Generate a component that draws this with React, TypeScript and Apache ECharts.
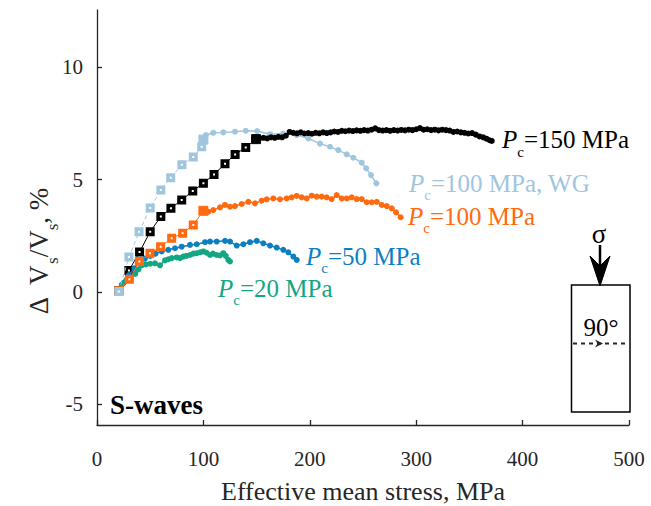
import React, { useEffect, useRef } from "react";
import * as echarts from "echarts";

const FONT = '"Liberation Serif", "Times New Roman", serif';
const AXIS_COLOR = "#262626";

const C_BLACK = "#000000";
const C_LIGHT = "#a0c6de";
const C_ORANGE = "#ff6a10";
const C_BLUE = "#0d7fc1";
const C_GREEN = "#13a682";

const xTicks = [0, 100, 200, 300, 400, 500];
const yTicks = [-5, 0, 5, 10];

// initial (square) segments; last point is the filled transition square
const lightSquares = [[20.5, 0.02], [30, 1.55], [39.5, 2.67], [50, 3.73], [60, 4.53], [69.3, 5.08], [79.8, 5.66], [90.5, 6.0], [98.4, 6.46], [100, 6.78]];
const lightCircles = [[102.4, 6.98], [109.3, 7.08], [118.7, 7.1], [129.7, 7.13], [139.8, 7.17], [150.5, 7.16], [162.6, 7.02], [175, 7.05], [187.7, 6.98], [198.6, 6.83], [209.6, 6.6], [219, 6.46], [226.8, 6.31], [234.7, 6.12], [240.9, 5.97], [248.8, 5.75], [253, 5.5], [257.5, 5.2], [262.5, 4.83]];

const blackSquares = [[20.5, 0.05], [30, 0.95], [40, 1.77], [50, 2.68], [60, 3.35], [69.5, 3.72], [79.6, 4.09], [90, 4.49], [100, 4.83], [110, 5.23], [120.3, 5.7], [129.8, 6.12], [139.8, 6.43], [149.5, 6.8]];
const blackCircles = [[153, 6.84], [156.5, 6.86], [160, 6.83], [163.5, 6.88], [167, 6.86], [170.5, 6.9], [174, 6.88], [177.5, 6.95], [181, 7.12], [184.5, 7.08], [188, 7.06], [191.5, 7.1], [195, 7.05], [198.5, 7.07], [202, 7.04], [205.5, 7.08], [209, 7.06], [212.5, 7.1], [216, 7.07], [219.5, 7.1], [223, 7.14], [226.5, 7.12], [230, 7.17], [233.5, 7.15], [237, 7.18], [240.5, 7.16], [244, 7.19], [247.5, 7.17], [251, 7.2], [254.5, 7.18], [258, 7.22], [261.5, 7.28], [265, 7.2], [268.5, 7.18], [272, 7.2], [275.5, 7.17], [279, 7.2], [282.5, 7.18], [286, 7.21], [289.5, 7.19], [293, 7.22], [296.5, 7.2], [300, 7.24], [303.5, 7.29], [307, 7.22], [310.5, 7.24], [314, 7.2], [317.5, 7.22], [321, 7.19], [324.5, 7.22], [328, 7.2], [331.5, 7.18], [335, 7.12], [338.5, 7.14], [342, 7.1], [345.5, 7.08], [349, 7.05], [352.5, 7.07], [356, 7.0], [359.5, 6.92], [363, 6.88], [366, 6.82], [369, 6.75], [371, 6.72]];

const orangeSquares = [[20.5, 0.05], [30.4, 0.56], [39.8, 1.35], [49.8, 1.72], [59.8, 2.01], [70.2, 2.39], [80.5, 2.61], [90.5, 2.98], [100, 3.61]];
const orangeCircles = [[104.6, 3.57], [109.3, 3.64], [115.6, 3.76], [120.3, 3.87], [125, 3.79], [129.7, 3.82], [136, 3.91], [142.2, 4.01], [148.5, 3.94], [154.8, 4.06], [159.5, 4.12], [165.7, 4.16], [172, 4.12], [178.3, 4.16], [183, 4.21], [187.7, 4.27], [192.4, 4.21], [197.1, 4.16], [201.8, 4.28], [206.5, 4.24], [211.2, 4.24], [215.9, 4.21], [220.6, 4.13], [225.3, 4.31], [230, 4.16], [234.7, 4.16], [239.4, 4.21], [244.1, 4.13], [248.8, 4.13], [253.5, 3.99], [258.2, 3.99], [262.9, 4.01], [267.6, 3.87], [272.3, 3.82], [277, 3.72], [281, 3.54], [285.4, 3.32]];

const blueCircles = [[20.5, 0.05], [25, 0.4], [30, 0.75], [35, 1.05], [40, 1.3], [45, 1.48], [50, 1.6], [55, 1.7], [60.8, 1.8], [67, 1.87], [73.3, 1.94], [79.6, 2.01], [87.4, 2.09], [93.7, 2.12], [101.5, 2.21], [106.2, 2.24], [112.5, 2.24], [120.3, 2.27], [125, 2.24], [131.3, 2.06], [137.5, 2.12], [143.8, 2.21], [150.1, 2.27], [156.3, 2.16], [162.6, 2.06], [168.9, 1.97], [175.1, 1.87], [179.8, 1.76], [184.5, 1.57], [187.7, 1.42]];

const greenCircles = [[20.5, 0.05], [23.2, 0.31], [27.5, 0.5], [32, 0.62], [36, 0.8], [39, 1.0], [42, 1.18], [46, 1.22], [50, 1.25], [54.5, 1.27], [59.2, 1.18], [63.9, 1.4], [67, 1.45], [70.2, 1.5], [74.9, 1.53], [78, 1.5], [81.1, 1.57], [84, 1.6], [87.4, 1.64], [90.5, 1.7], [93.7, 1.72], [97, 1.76], [100, 1.8], [103, 1.74], [106.2, 1.64], [109, 1.7], [112.5, 1.64], [115.6, 1.62], [118.7, 1.72], [121, 1.6], [123.4, 1.42], [125, 1.35]];

const seriesLabels = [
  { rest: "=150 MPa", color: C_BLACK, x: 502, y: 139.5 },
  { rest: "=100 MPa, WG", color: C_LIGHT, x: 409, y: 183 },
  { rest: "=100 MPa", color: C_ORANGE, x: 408, y: 216 },
  { rest: "=50 MPa", color: C_BLUE, x: 306, y: 256 },
  { rest: "=20 MPa", color: C_GREEN, x: 218, y: 288 },
];

let ctx: CanvasRenderingContext2D | null = null;
function measure(text: string, size: number, italic = false, bold = false) {
  if (!ctx) ctx = document.createElement("canvas").getContext("2d");
  if (!ctx) return text.length * size * 0.5;
  ctx.font = `${italic ? "italic " : ""}${bold ? "bold " : ""}${size}px "Liberation Serif"`;
  return ctx.measureText(text).width;
}

type Part = { t: string; italic?: boolean; sub?: boolean };
function richLine(parts: Part[], color: string, size: number, subSize: number, subDy: number) {
  let x = 0;
  const children: any[] = [];
  for (const p of parts) {
    const fs = p.sub ? subSize : size;
    children.push({
      type: "text",
      x,
      y: p.sub ? subDy : 0,
      style: {
        text: p.t,
        fill: color,
        fontSize: fs,
        fontFamily: FONT,
        fontStyle: p.italic ? "italic" : "normal",
        textAlign: "left",
        textVerticalAlign: "middle",
      },
    });
    x += measure(p.t, fs, !!p.italic);
  }
  return { children, width: x };
}

function squareSeries(data: number[][], color: string, dashed: boolean, z: number) {
  return {
    type: "line",
    z,
    data: data.map((d, i) =>
      i === data.length - 1
        ? { value: d, symbolSize: 9, itemStyle: { color, borderColor: color, borderWidth: 1 } }
        : { value: d }
    ),
    symbol: "rect",
    symbolSize: 5.5,
    itemStyle: { color: "#ffffff", borderColor: color, borderWidth: 3.5 },
    lineStyle: { color, width: 1, type: dashed ? [4, 3] : "solid" },
    emphasis: { disabled: true },
  };
}

function circleSeries(data: number[][], color: string, z: number, start?: number[]) {
  const items: any[] = [];
  if (start) items.push({ value: start, symbol: "none" });
  for (const d of data) items.push({ value: d });
  return {
    type: "line",
    z,
    data: items,
    symbol: "circle",
    symbolSize: 6,
    itemStyle: { color, borderWidth: 0 },
    lineStyle: { color, width: 1.5 },
    emphasis: { disabled: true },
  };
}

export default function App() {
  const ref = useRef<HTMLDivElement>(null);
  useEffect(() => {
    if (!ref.current) return;
    const chart = echarts.init(ref.current, undefined, { renderer: "svg" });

    const graphics: any[] = [];
    for (const l of seriesLabels) {
      const r = richLine([{ t: "P", italic: true }, { t: "c", sub: true }, { t: l.rest }], l.color, 25, 15, 12);
      graphics.push({ type: "group", x: l.x, y: l.y, children: r.children, z: 100 });
    }
    const yl = richLine(
      [{ t: "Δ  V" }, { t: "s", sub: true }, { t: "/V" }, { t: "s", sub: true }, { t: ", %" }],
      AXIS_COLOR, 27, 17, 13
    );
    graphics.push({
      type: "group",
      x: 39,
      y: 251,
      rotation: Math.PI / 2,
      children: [{ type: "group", x: -yl.width / 2, y: 0, children: yl.children }],
    });
    graphics.push({
      type: "text",
      x: 363,
      y: 491,
      style: { text: "Effective mean stress, MPa", fill: AXIS_COLOR, fontSize: 26, fontFamily: FONT, textAlign: "center", textVerticalAlign: "middle" },
    });
    graphics.push({
      type: "text",
      x: 110,
      y: 405,
      style: { text: "S-waves", fill: "#000", fontSize: 27, fontWeight: "bold", fontFamily: FONT, textAlign: "left", textVerticalAlign: "middle" },
    });
    // inset sample
    graphics.push({ type: "rect", shape: { x: 571.5, y: 285, width: 58.5, height: 127 }, style: { fill: "none", stroke: "#000", lineWidth: 1.5 } });
    graphics.push({ type: "line", shape: { x1: 600, y1: 245, x2: 600, y2: 268 }, style: { stroke: "#000", lineWidth: 2.5 } });
    graphics.push({ type: "polygon", shape: { points: [[600, 286], [590, 256], [600, 266], [610, 256]] }, style: { fill: "#000", stroke: "#000", lineWidth: 1 } });
    graphics.push({
      type: "text", x: 599, y: 234,
      style: { text: "σ", fill: "#000", fontSize: 27, fontFamily: FONT, textAlign: "center", textVerticalAlign: "middle" },
    });
    graphics.push({
      type: "text", x: 601, y: 327,
      style: { text: "90°", fill: "#000", fontSize: 25, fontFamily: FONT, textAlign: "center", textVerticalAlign: "middle" },
    });
    graphics.push({ type: "line", shape: { x1: 573, y1: 343.5, x2: 629, y2: 343.5 }, style: { stroke: "#262626", lineWidth: 2, lineDash: [4, 4] } });
    graphics.push({ type: "polygon", shape: { points: [[603, 343.5], [595, 339.5], [597.5, 343.5], [595, 347.5]] }, style: { fill: "#262626" } });

    chart.setOption({
      animation: false,
      backgroundColor: "#ffffff",
      grid: { left: 97, top: 10, width: 532, height: 415, containLabel: false },
      xAxis: {
        type: "value",
        min: xTicks[0],
        max: xTicks[xTicks.length - 1],
        interval: 100,
        splitLine: { show: false },
        axisLine: { show: true, onZero: false, lineStyle: { color: AXIS_COLOR, width: 1.3 } },
        axisTick: { show: true, inside: true, length: 5, lineStyle: { color: AXIS_COLOR, width: 1.3 } },
        axisLabel: { color: AXIS_COLOR, fontSize: 21, fontFamily: FONT, margin: 23, customValues: xTicks },
      },
      yAxis: {
        type: "value",
        min: -5.93,
        max: 12.55,
        splitLine: { show: false },
        axisLine: { show: true, onZero: false, lineStyle: { color: AXIS_COLOR, width: 1.3 } },
        axisTick: { show: true, inside: true, length: 5, customValues: yTicks, lineStyle: { color: AXIS_COLOR, width: 1.3 } },
        axisLabel: { color: AXIS_COLOR, fontSize: 21, fontFamily: FONT, margin: 14, customValues: yTicks },
      },
      series: [
        circleSeries(lightCircles, C_LIGHT, 2, lightSquares[lightSquares.length - 1]),
        squareSeries(blackSquares, C_BLACK, false, 3),
        circleSeries(blackCircles, C_BLACK, 3, blackSquares[blackSquares.length - 1]),
        circleSeries(blueCircles, C_BLUE, 4),
        circleSeries(greenCircles, C_GREEN, 5),
        squareSeries(orangeSquares, C_ORANGE, false, 6),
        circleSeries(orangeCircles, C_ORANGE, 6, orangeSquares[orangeSquares.length - 1]),
        squareSeries(lightSquares, C_LIGHT, true, 7),
      ],
      graphic: graphics,
    });
    return () => chart.dispose();
  }, []);
  return <div ref={ref} style={{ position: "fixed", left: 0, top: 0, width: 651, height: 506 }} />;
}
